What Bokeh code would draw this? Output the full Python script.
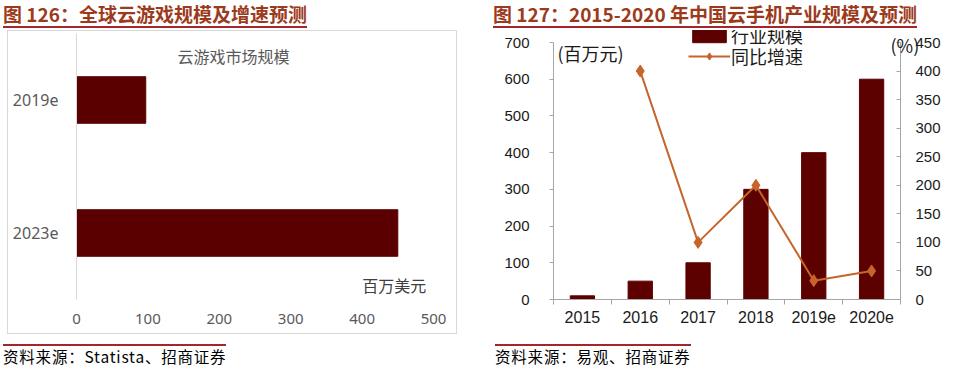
from bokeh.plotting import figure
from bokeh.models import (FactorRange, Range1d, LinearAxis, FixedTicker, Label,
                          Legend, LegendItem, Div, Spacer, ColumnDataSource)
from bokeh.layouts import row, column
from bokeh.embed import file_html
from bokeh.resources import INLINE

# ---------------- data ----------------
# Figure 126: global cloud gaming market size (USD million)
cg_years = ["2019e", "2023e"]
cg_values = [97, 450]
cg_ticks = [0, 100, 200, 300, 400, 500]

# Figure 127: China cloud phone industry size (CNY million) and YoY growth (%)
cp_years = ["2015", "2016", "2017", "2018", "2019e", "2020e"]
cp_size = [10, 50, 100, 300, 400, 600]
cp_growth = [float("nan"), 400, 100, 200, 33, 50]
cp_left_ticks = [0, 100, 200, 300, 400, 500, 600, 700]
cp_right_ticks = [0, 50, 100, 150, 200, 250, 300, 350, 400, 450]

titles = ["图 126：全球云游戏规模及增速预测", "图 127：2015-2020 年中国云手机产业规模及预测"]
sources = ["资料来源：Statista、招商证券", "资料来源：易观、招商证券"]

CJK = "Noto Sans CJK SC"
RULE = "#a3262a"
TITLE_COLOR = "#9c3a1c"


def title_div(text, width):
    html = (f'<div style="font-family:\'{CJK}\';font-weight:bold;font-size:19px;'
            f'color:{TITLE_COLOR};line-height:28px;height:28px;white-space:nowrap;'
            f'overflow:visible;border-bottom:2px solid {RULE};">{text}</div>')
    return Div(text=html, width=width, height=30, margin=0)


def source_div(text, width):
    html = (f'<div style="margin-top:10px;border-top:2px solid {RULE};height:0px;"></div>'
            f'<div style="font-family:\'{CJK}\';font-size:15.5px;line-height:18px;margin-top:1px;'
            f'letter-spacing:0.8px;color:#000;white-space:nowrap;">{text}</div>')
    return Div(text=html, width=width, height=32, margin=0)


# ---------------- left chart ----------------
src1 = ColumnDataSource(dict(y=cg_years, v=cg_values))
p1 = figure(width=450, height=304, y_range=FactorRange(factors=cg_years[::-1]),
            x_range=Range1d(0, 500), output_backend="svg", toolbar_location=None,
            min_border_left=68, min_border_right=25, min_border_top=2, min_border_bottom=36,
            styles={"border": "1px solid #d9d9d9", "box-sizing": "border-box"})
p1.hbar(y="y", right="v", left=0, height=0.35, source=src1, fill_color="#5a0000",
        line_color="#5a0000")
p1.outline_line_color = None
p1.grid.visible = False
p1.xaxis.ticker = FixedTicker(ticks=cg_ticks)
p1.xaxis.axis_line_color = None
p1.xaxis.major_tick_line_color = None
p1.xaxis.minor_tick_line_color = None
p1.xaxis.major_label_text_font_size = "15px"
p1.xaxis.major_label_text_color = "#595959"
p1.xaxis.major_label_text_font = "Noto Sans"
p1.xaxis.major_label_standoff = 8
p1.yaxis.axis_line_color = "#d9d9d9"
p1.yaxis.major_tick_line_color = None
p1.yaxis.major_label_text_font_size = "16px"
p1.yaxis.major_label_text_color = "#595959"
p1.yaxis.major_label_text_font = "Noto Sans"
p1.yaxis.major_label_standoff = 12
p1.add_layout(Label(x=220, y=1.83, text="云游戏市场规模", text_align="center",
                    text_baseline="middle", text_font_size="16px", text_color="#595959",
                    text_font=CJK))
p1.add_layout(Label(x=445, y=0.106, text="百万美元", text_align="center",
                    text_baseline="middle", text_font_size="16px", text_color="#404040",
                    text_font=CJK))

# ---------------- right chart ----------------
n = len(cp_years)
FRAME_H, PLOT_H = 269, 257      # frame height vs. height of the 0..700 area
xs = [i + 0.5 for i in range(n)]
src2 = ColumnDataSource(dict(x=xs, size=cp_size, g=cp_growth))
p2 = figure(width=482, height=304,
            x_range=Range1d(0, n),
            y_range=Range1d(0, cp_left_ticks[-1] * FRAME_H / PLOT_H),
            output_backend="svg", toolbar_location=None,
            min_border_left=63, min_border_right=72, min_border_top=0, min_border_bottom=35)
p2.extra_y_ranges = {"g": Range1d(0, cp_right_ticks[-1] * FRAME_H / PLOT_H)}
bars = p2.vbar(x="x", top="size", width=0.42, source=src2, fill_color="#5c0000",
               line_color="#5c0000")
ln = p2.line(x="x", y="g", source=src2, y_range_name="g", line_color="#c5652c", line_width=2)
sc = p2.scatter(x="x", y="g", source=src2, y_range_name="g", marker="diamond", size=12,
                fill_color="#c5652c", line_color="#c5652c")
p2.outline_line_color = None
p2.grid.visible = False

p2.xaxis.ticker = FixedTicker(ticks=xs, minor_ticks=list(range(n + 1)))
p2.xaxis.major_label_overrides = {x: lab for x, lab in zip(xs, cp_years)}
p2.xaxis.major_tick_line_color = None
p2.xaxis.minor_tick_in = 0
p2.xaxis.minor_tick_out = 5
p2.xaxis.minor_tick_line_color = "#a6a6a6"
p2.xaxis.axis_line_color = "#a6a6a6"
p2.xaxis.major_label_text_font_size = "16px"
p2.xaxis.major_label_text_color = "#1a1a1a"
p2.xaxis.major_label_text_font = "Liberation Sans"
p2.xaxis.major_label_standoff = 5

p2.yaxis.ticker = FixedTicker(ticks=cp_left_ticks)
p2.yaxis.bounds = (cp_left_ticks[0], cp_left_ticks[-1])
p2.yaxis.axis_line_color = "#a6a6a6"
p2.yaxis.major_tick_line_color = "#a6a6a6"
p2.yaxis.major_tick_in = 0
p2.yaxis.major_tick_out = 4
p2.yaxis.minor_tick_line_color = None
p2.yaxis.major_label_text_font_size = "15px"
p2.yaxis.major_label_text_color = "#1a1a1a"
p2.yaxis.major_label_text_font = "Liberation Sans"
p2.yaxis.major_label_standoff = 20

ax_r = LinearAxis(y_range_name="g", ticker=FixedTicker(ticks=cp_right_ticks),
                  bounds=(cp_right_ticks[0], cp_right_ticks[-1]))
ax_r.axis_line_color = "#a6a6a6"
ax_r.major_tick_line_color = "#a6a6a6"
ax_r.major_tick_in = 4
ax_r.major_tick_out = 0
ax_r.minor_tick_line_color = None
ax_r.major_label_text_font_size = "15px"
ax_r.major_label_text_color = "#1a1a1a"
ax_r.major_label_text_font = "Liberation Sans"
ax_r.major_label_standoff = 15

if "axis_label_align" in ax_r.properties():
    # "(%)" unit drawn as the right axis' own label, pulled back over the axis line
    ax_r.axis_label = "\n(%)"
    ax_r.axis_label_orientation = "horizontal"
    ax_r.axis_label_align = "end"
    ax_r.axis_label_standoff = -53
    ax_r.axis_label_text_font = CJK
    ax_r.axis_label_text_font_size = "18px"
    ax_r.axis_label_text_font_style = "normal"
    ax_r.axis_label_text_color = "#1a1a1a"
    ax_r.axis_label_text_baseline = "top"
    ax_r.axis_label_text_line_height = 1.1
else:
    p2.add_layout(Label(x=n, y=677, x_offset=-26, text="(%)", text_baseline="middle",
                        text_font_size="18px", text_color="#1a1a1a", text_font=CJK))
p2.add_layout(ax_r, "right")

p2.add_layout(Label(x=0, y=672, x_offset=4, text="(百万元)", text_baseline="middle",
                    text_font_size="18px", text_color="#1a1a1a", text_font=CJK))


def mk_legend(label, rends, loc):
    return Legend(items=[LegendItem(label=label, renderers=rends)],
                  location=loc, orientation="vertical", padding=0, margin=0, spacing=0,
                  glyph_width=42, glyph_height=18, label_height=18, label_standoff=1,
                  label_text_font_size="18px", label_text_font=CJK,
                  label_text_color="#1a1a1a", background_fill_alpha=0,
                  border_line_color=None)


p2.add_layout(mk_legend("行业规模", [bars], (135, 251)), "center")
p2.add_layout(mk_legend("同比增速", [ln, sc], (135, 230)), "center")

# ---------------- layout ----------------
left = column(row(Spacer(width=3, height=30), title_div(titles[0], 470)),
              row(Spacer(width=7, height=304), p1),
              row(Spacer(width=3, height=32), source_div(sources[0], 470)),
              width=490, spacing=0)
right = column(row(Spacer(width=3, height=30), title_div(titles[1], 479)),
               p2,
               row(Spacer(width=5, height=32), source_div(sources[1], 477)),
               width=482, spacing=0)
page = row(left, right, spacing=0)

open("out.html", "w").write(file_html(page, INLINE))
